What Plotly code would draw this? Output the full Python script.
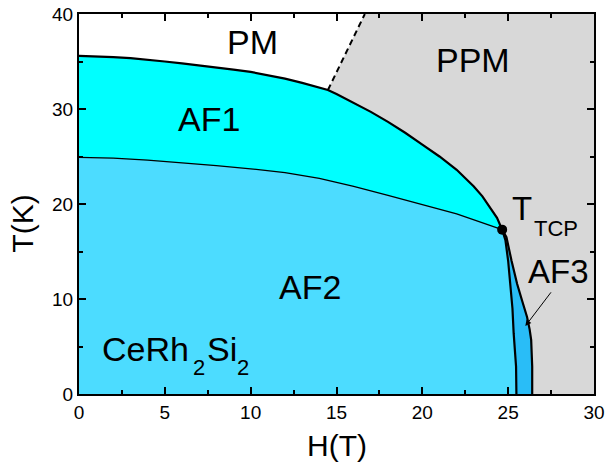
import plotly.graph_objects as go

# ---- data ----
# AF1 upper boundary (PM/PPM -> AF1), H in T, T in K
H_af1 = [0, 1, 2, 3, 4, 5, 6, 7, 8, 9, 10, 11, 12, 13, 14, 14.5, 15, 16, 17, 18, 19, 20, 21, 22, 22.6, 23, 23.5, 24, 24.35, 24.65]
T_af1 = [35.6, 35.55, 35.45, 35.35, 35.2, 35.0, 34.8, 34.6, 34.4, 34.15, 33.9, 33.55, 33.2, 32.75, 32.25, 32.0, 31.58, 30.68, 29.7, 28.65, 27.5, 26.25, 25.0, 23.6, 22.6, 21.85, 20.8, 19.55, 18.55, 17.3]
# AF2 upper boundary (AF1 -> AF2)
H_af2 = [0, 2, 4, 6, 8, 10, 12, 14, 16, 18, 20, 22, 24.65]
T_af2 = [24.9, 24.82, 24.62, 24.35, 24.05, 23.7, 23.3, 22.7, 21.85, 20.9, 19.95, 18.95, 17.3]
# AF3 upper (right) boundary, from tricritical point down
H_af3 = [24.65, 24.9, 25.2, 25.52, 25.8, 26.1, 26.25, 26.34, 26.4, 26.4]
T_af3 = [17.3, 16.5, 14.0, 11.6, 9.9, 8.1, 6.8, 5.7, 2.9, 0]
# AF2 right boundary (AF2 -> AF3), from tricritical point down
H_af2r = [24.65, 24.84, 25.0, 25.13, 25.25, 25.32, 25.42, 25.46, 25.48]
T_af2r = [17.3, 16.2, 14.0, 11.6, 9.0, 6.4, 4.0, 2.9, 0]
# PM / PPM crossover (dashed)
H_pm = [14.5, 16.65]
T_pm = [32.0, 40.0]
# tricritical point
H_tcp = [24.65]
T_tcp = [17.3]

x_ticks = [0, 5, 10, 15, 20, 25, 30]
y_ticks = [0, 10, 20, 30, 40]

C_AF1 = "#00FFFF"
C_AF2 = "#4CDCFF"
C_AF3 = "#29BDF7"
C_PPM = "#D8D8D8"
FONT = "Arial, Liberation Sans, Helvetica, sans-serif"

fig = go.Figure()

# PPM region (grey)
fig.add_trace(go.Scatter(
    x=[H_pm[0], H_pm[1], 30, 30, H_pm[0]],
    y=[T_pm[0], T_pm[1], 40, 0, 0],
    fill="toself", fillcolor=C_PPM, mode="lines", line=dict(width=0),
    hoverinfo="skip", showlegend=False))

# full ordered region (AF1 colour)
fig.add_trace(go.Scatter(
    x=[0] + H_af1 + H_af3[1:] + [0],
    y=[0] + T_af1 + T_af3[1:] + [0],
    fill="toself", fillcolor=C_AF1, mode="lines", line=dict(width=0),
    hoverinfo="skip", showlegend=False))

# AF3 region
fig.add_trace(go.Scatter(
    x=H_af3 + H_af2r[::-1],
    y=T_af3 + T_af2r[::-1],
    fill="toself", fillcolor=C_AF3, mode="lines", line=dict(width=0),
    hoverinfo="skip", showlegend=False))

# AF2 region
fig.add_trace(go.Scatter(
    x=[0] + H_af2 + H_af2r[1:] + [0],
    y=[0] + T_af2 + T_af2r[1:] + [0],
    fill="toself", fillcolor=C_AF2, mode="lines", line=dict(width=0),
    hoverinfo="skip", showlegend=False))

# boundary lines
fig.add_trace(go.Scatter(x=H_af1 + H_af3[1:], y=T_af1 + T_af3[1:], mode="lines",
                         line=dict(color="black", width=2.2), hoverinfo="skip", showlegend=False))
fig.add_trace(go.Scatter(x=H_af2, y=T_af2, mode="lines",
                         line=dict(color="black", width=1.3), hoverinfo="skip", showlegend=False))
fig.add_trace(go.Scatter(x=H_af2r, y=T_af2r, mode="lines",
                         line=dict(color="black", width=2.2), hoverinfo="skip", showlegend=False))
fig.add_trace(go.Scatter(x=H_pm, y=T_pm, mode="lines",
                         line=dict(color="black", width=2, dash="6px,4px"), hoverinfo="skip", showlegend=False))
fig.add_trace(go.Scatter(x=H_tcp, y=T_tcp, mode="markers",
                         marker=dict(color="black", size=10), hoverinfo="skip", showlegend=False))

def label(text, x, y, size, xanchor="center"):
    fig.add_annotation(x=x, y=y, text=text, showarrow=False, xanchor=xanchor, yanchor="middle",
                       font=dict(family=FONT, size=size, color="black"))

label("PM", 10.12, 37.1, 34)
label("PPM", 22.94, 35.2, 34)
label("AF1", 7.59, 28.9, 34)
label("AF2", 13.44, 11.28, 34)
label("AF3", 27.95, 12.86, 33)
label("T", 25.83, 19.53, 33)
label("TCP", 27.78, 17.43, 22)
label("CeRh", 3.9, 4.69, 34)
label("2", 6.98, 2.79, 22)
label("Si", 8.33, 4.69, 34)
label("2", 9.58, 2.79, 22)

# arrow to AF3
fig.add_annotation(x=26.0, y=7.15, ax=27.56, ay=10.86, axref="x", ayref="y", xref="x", yref="y",
                   text="", showarrow=True, arrowhead=2, arrowsize=1.2, arrowwidth=1, arrowcolor="black",
                   standoff=0)

# axis titles
fig.add_annotation(x=0.5, y=-(446 - 394) / 380.3, xref="x domain", yref="y domain", text="H(T)",
                   showarrow=False, xanchor="center", yanchor="middle",
                   font=dict(family=FONT, size=30, color="black"))
fig.add_annotation(x=-(79 - 22.5) / 515, y=(394 - 224) / 380.3, xref="x domain", yref="y domain",
                   text="T(K)", textangle=-90, showarrow=False, xanchor="center", yanchor="middle",
                   font=dict(family=FONT, size=30, color="black"))

axis_common = dict(showgrid=False, zeroline=False, showline=True, linewidth=2, linecolor="black",
                   mirror="allticks", ticks="inside", ticklen=7, tickwidth=1.5, tickcolor="black",
                   tickfont=dict(family=FONT, size=19, color="black"), layer="above traces",
                   automargin=False)

fig.update_xaxes(range=[0, 30], tickvals=x_ticks, ticktext=[str(v) for v in x_ticks],
                 minor=dict(dtick=2.5, ticks="inside", ticklen=4, tickwidth=1.5, tickcolor="black"),
                 **axis_common)
fig.update_yaxes(range=[0, 40], tickvals=y_ticks, ticktext=[str(v) for v in y_ticks],
                 minor=dict(dtick=5, ticks="inside", ticklen=4, tickwidth=1.5, tickcolor="black"),
                 **axis_common)

fig.update_layout(width=605, height=468, autosize=False,
                  margin=dict(l=79, r=11, t=14, b=74, pad=0, autoexpand=False),
                  plot_bgcolor="white", paper_bgcolor="white",
                  font=dict(family=FONT), showlegend=False)

fig.write_html("out.html", config={"displayModeBar": False},
               post_script="document.body.style.margin='0';document.body.style.overflow='hidden';")
